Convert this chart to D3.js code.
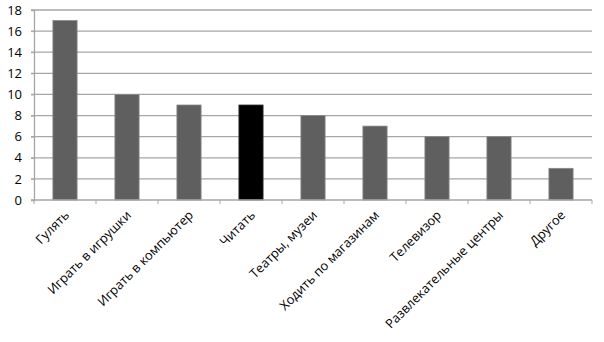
<!DOCTYPE html>
<html>
<head>
<meta charset="utf-8">
<script src="https://cdn.jsdelivr.net/npm/d3@7"></script>
<style>
  body { margin: 0; background: #fff; }
  text { font-family: "Open Sans", "Noto Sans", sans-serif; fill: #000; }
</style>
</head>
<body>
<div id="chart"></div>
<script>
// Chart data
const categories = ["Гулять", "Играть в игрушки", "Играть в компьютер", "Читать",
  "Театры, музеи", "Ходить по магазинам", "Телевизор", "Развлекательные центры", "Другое"];
const values = [17, 10, 9, 9, 8, 7, 6, 6, 3];
const highlighted = ["Читать"];
const yTicks = [0, 2, 4, 6, 8, 10, 12, 14, 16, 18];

const width = 604, height = 342;
const margin = {top: 10, right: 12, bottom: 142, left: 34};

const svg = d3.select("#chart").append("svg")
  .attr("width", width)
  .attr("height", height);

const x = d3.scaleBand()
  .domain(categories)
  .range([margin.left, width - margin.right])
  .paddingInner(0.61)
  .paddingOuter(0.305);

const y = d3.scaleLinear()
  .domain([0, 18])
  .range([height - margin.bottom, margin.top]);

// horizontal gridlines
svg.append("g")
  .selectAll("line")
  .data(yTicks.slice(1))
  .join("line")
  .attr("x1", margin.left - 3)
  .attr("x2", width - margin.right)
  .attr("y1", d => y(d))
  .attr("y2", d => y(d))
  .attr("stroke", "#a6a6a6")
  .attr("stroke-width", 1.3);

// y axis
const yAxis = svg.append("g")
  .attr("transform", `translate(${margin.left},0)`)
  .call(d3.axisLeft(y).tickValues(yTicks).tickSize(3).tickPadding(9));
yAxis.select(".domain").attr("stroke", "#a6a6a6").attr("stroke-width", 1.3);
yAxis.selectAll(".tick line").attr("stroke", "#a6a6a6");
yAxis.selectAll(".tick text")
  .style("font-size", "13px");

// bars
svg.append("g")
  .selectAll("rect")
  .data(categories)
  .join("rect")
  .attr("x", d => x(d))
  .attr("width", x.bandwidth())
  .attr("y", (d, i) => y(values[i]))
  .attr("height", (d, i) => y(0) - y(values[i]))
  .attr("fill", d => highlighted.includes(d) ? "#000" : "#5f5f5f")
  .attr("stroke", d => highlighted.includes(d) ? "#333" : "#8a8a8a")
  .attr("stroke-width", 0.8);

// x axis with ticks on category boundaries
const step = x.step();
const bounds = d3.range(categories.length + 1).map(i => margin.left + i * step);
svg.append("line")
  .attr("x1", margin.left - 3)
  .attr("x2", width - margin.right)
  .attr("y1", y(0))
  .attr("y2", y(0))
  .attr("stroke", "#a6a6a6")
  .attr("stroke-width", 1.3);
svg.append("g")
  .selectAll("line")
  .data(bounds)
  .join("line")
  .attr("x1", d => d)
  .attr("x2", d => d)
  .attr("y1", y(0))
  .attr("y2", y(0) + 4)
  .attr("stroke", "#a6a6a6");

// rotated category labels
svg.append("g")
  .selectAll("text")
  .data(categories)
  .join("text")
  .attr("transform", d => `translate(${x(d) + x.bandwidth() / 2 + 5},${y(0) + 16}) rotate(-45)`)
  .attr("text-anchor", "end")
  .style("font-size", "12.8px")
  .text(d => d);
</script>
</body>
</html>
